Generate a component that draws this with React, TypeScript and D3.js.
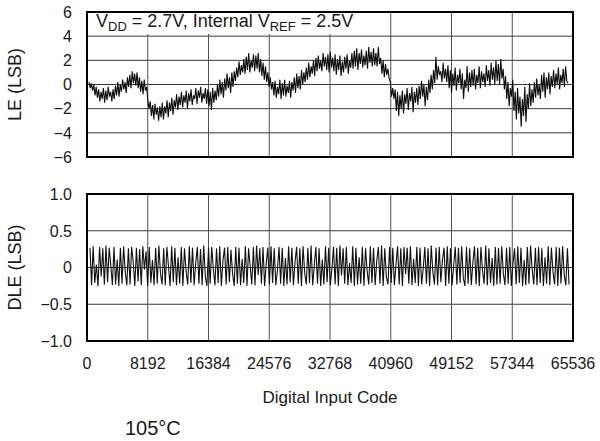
import React from "react";
import * as d3 from "d3";

const X_TICKS = [0, 8192, 16384, 24576, 32768, 40960, 49152, 57344, 65536];
const LE_TICKS = [6, 4, 2, 0, -2, -4, -6];
const LE_TICK_LABELS = ["6", "4", "2", "0", "\u22122", "\u22124", "\u22126"];
const DLE_TICKS = [1, 0.5, 0, -0.5, -1];
const DLE_TICK_LABELS = ["1.0", "0.5", "0", "\u22120.5", "\u22121.0"];

const LE_CODE_RANGE = [270, 64860];
const LE_VALUES = [
  0.2, -0.3, 0.1, -0.5, 0.0, -0.9, -0.2, -1.1, -0.4, -1.4, -0.6, -1.2, -0.3, -1.5, -0.5, -1.3, -0.2, -1.0, -0.6, -1.4,
  -0.4, -1.2, -0.1, -0.9, 0.2, -1.0, 0.0, -0.6, 0.4, -0.4, 0.2, -0.7, 0.6, -0.2, 0.8, -0.3, 1.1, 0.1, 0.9, -0.1,
  1.0, -0.3, 0.6, -0.6, 0.3, -0.8, 0.4, -0.5, -0.2, -1.3, -2.0, -1.4, -2.6, -1.7, -2.9, -1.6, -2.5, -1.9, -3.0, -1.8,
  -2.7, -1.5, -2.9, -1.8, -2.4, -1.3, -2.7, -1.5, -2.2, -1.1, -2.5, -1.3, -1.9, -0.8, -2.1, -1.0, -1.7, -0.6, -1.9, -0.9,
  -1.5, -0.5, -2.0, -0.7, -1.4, -0.4, -1.7, -0.9, -1.2, -0.3, -1.6, -0.5, -1.1, -0.2, -1.5, -0.7, -1.2, -0.3, -1.6, -0.4,
  -1.8, -0.6, -2.1, -0.3, -1.5, -0.5, -1.3, 0.0, -1.0, 0.4, -0.8, 0.2, -1.1, 0.5, -0.5, 0.9, -0.3, 0.6, -0.7, 1.0,
  -0.2, 1.1, 0.3, 1.4, 0.6, 1.9, 0.8, 1.6, 1.0, 2.1, 0.9, 2.3, 1.2, 2.6, 1.0, 2.0, 1.4, 2.5, 1.1, 2.4,
  1.3, 2.6, 1.0, 2.1, 0.7, 1.8, 0.4, 1.5, 0.2, 1.0, -0.2, 0.6, -0.4, 0.2, -0.9, 0.3, -1.1, -0.2, -0.8, 0.4,
  -1.2, 0.1, -0.9, 0.4, -1.0, -0.1, -0.7, 0.3, -1.1, 0.2, -0.5, 0.6, -0.7, 0.9, -0.3, 0.7, -0.4, 1.2, 0.0, 1.0,
  0.2, 1.4, 0.4, 1.8, 0.6, 1.5, 0.9, 2.0, 0.7, 2.2, 1.1, 2.4, 1.3, 2.0, 1.1, 2.6, 1.5, 2.3, 1.2, 2.5,
  1.0, 2.7, 1.4, 2.2, 1.1, 2.5, 0.8, 2.1, 1.2, 2.4, 0.7, 1.9, 1.0, 2.3, 1.3, 2.5, 0.9, 2.0, 1.4, 2.6,
  1.3, 2.8, 1.5, 3.0, 1.2, 2.6, 1.7, 2.9, 1.4, 2.4, 1.6, 2.8, 1.3, 3.1, 1.8, 2.7, 1.5, 3.0, 1.6, 2.6,
  1.5, 3.1, 1.7, 2.2, 0.9, 2.0, 0.6, 1.7, 0.8, 1.3, 0.5, 0.2, -1.0, -0.3, -1.2, -0.4, -2.2, -0.6, -2.6, -0.9,
  -2.0, -0.5, -2.4, -0.8, -1.6, -0.3, -2.1, -0.7, -1.4, -0.2, -2.3, -0.6, -1.5, -0.3, -1.7, -0.1, -1.2, 0.3, -1.0, 0.0,
  -1.8, -0.2, -1.3, 0.4, -0.7, 0.8, -0.4, 1.2, 0.1, 2.3, 0.4, 1.5, 0.8, 1.1, 0.2, 1.8, 0.5, 1.3, 0.2, 1.6,
  -0.3, 1.2, -0.7, 0.9, -0.1, 1.4, -0.5, 0.8, 0.1, 1.3, -0.4, 0.9, -1.2, 0.4, -0.3, 1.5, -0.6, 1.0, -0.2, 1.2,
  -0.1, 1.3, -0.4, 0.8, 0.1, 1.5, -0.3, 1.1, 0.2, 0.9, -0.2, 1.6, 0.3, 1.2, -0.1, 1.8, 0.4, 1.4, 0.0, 2.0,
  0.3, 1.7, 0.0, 2.1, 0.5, 1.3, -0.4, 0.7, -1.2, 0.2, -1.8, -0.3, -1.0, 0.4, -2.2, -0.6, -2.9, -0.3, -2.4, -1.0,
  -3.5, -1.2, -2.6, -0.2, -3.1, -0.8, -2.0, 0.1, -1.8, -0.4, -1.5, 0.2, -1.1, 0.5, -0.9, 0.0, -1.2, 0.8, -0.6, 1.0,
  -1.1, 0.6, -0.4, 1.0, -0.8, 0.7, -0.2, 1.2, -0.3, 0.9, 0.0, 1.4, -0.4, 0.8, 0.1, 1.3, -0.2, 1.5, 0.3, 0.1,
];

const DLE_CODE_RANGE = [400, 65000];
const DLE_VALUES = [
  .27, -.24, .29, -.21, .04, -.25, .28, -.12, .26, -.23,
  .30, -.20, .27, .03, -.24, .28, -.23, .11, -.25, .27,
  -.22, .29, -.06, -.24, .26, -.23, .28, .07, -.25, .27,
  -.19, .25, -.24, .29, -.03, .22, -.25, .28, -.21, .10,
  -.24, .27, -.22, .30, -.08, -.23, .26, -.24, .28, .02,
  -.25, .29, -.20, .27, -.24, .14, -.22, .28, -.25, .26,
  -.05, -.23, .29, -.21, .27, -.24, .06, .28, -.22, .25,
  -.24, .30, -.13, -.25, .27, -.22, .28, -.02, -.24, .26,
  -.21, .29, -.25, .09, .27, -.23, .28, -.20, .24, -.08,
  -.25, .28, -.22, .27, -.24, .12, -.21, .29, -.25, .26,
  .01, -.23, .28, -.24, .30, -.10, .26, -.22, .28, -.25,
  .05, .27, -.23, .29, -.21, .26, -.24, -.04, .28, -.22,
  .27, -.25, .13, -.23, .29, -.20, .27, -.24, .08, .28,
  -.22, .26, -.25, .29, -.07, -.23, .27, -.21, .30, -.24,
  .03, .28, -.22, .26, -.25, .11, -.23, .29, -.20, .27,
  -.24, -.02, .28, -.23, .27, -.25, .30, -.11, .26, -.22,
  .28, -.24, .06, -.21, .29, -.25, .27, -.23, .14, -.22,
  .28, -.25, .26, -.05, -.23, .29, -.21, .27, -.24, .09,
  .28, -.22, .30, -.25, .26, -.13, -.23, .28, -.21, .27,
  -.24, .04, .29, -.23, .26, -.25, .28, -.09, .27, -.22,
  .29, -.24, .12, -.21, .28, -.25, .27, -.23, -.01, .28,
  -.22, .26, -.25, .30, -.06, -.23, .27, -.24, .28, -.20,
  .10, .27, -.25, .29, -.22, .26, -.24, .03, .28, -.23,
  .27, -.21, .29, -.14, -.25, .28, -.22, .26, -.24, .07,
  .29, -.23, .27, -.25, .28, -.04, -.22, .30, -.24, .26,
  -.21, .13, -.25, .28, -.23, .27, -.22, .29, -.08, -.24,
  .27, -.22, .28, -.25, .05, .26, -.23, .29, -.21, .27,
  -.25, .10, -.24, .28, -.22, .30, -.03, -.23, .27, -.24,
  .28, -.21, .26, -.25, .14, -.22, .29, -.24, .27, -.06,
  -.23, .28, -.25, .27, -.22, .29, -.10, -.24, .26, -.23,
];

const W = 600;
const H = 441;
const LEFT = 87;
const RIGHT = 573;
const TOP1 = 12;
const BOT1 = 157;
const TOP2 = 194;
const BOT2 = 341;
const FONT = "'Liberation Sans', Arial, Helvetica, sans-serif";
const VGRID = "#5a4b50";
const HGRID = "#3a3a3a";
const TEXT = "#1a1a1a";

export default function App() {
  const x = d3.scaleLinear().domain([0, 65536]).range([LEFT, RIGHT]);
  const yLE = d3.scaleLinear().domain([-6, 6]).range([BOT1, TOP1]);
  const yDLE = d3.scaleLinear().domain([-1, 1]).range([BOT2, TOP2]);

  const leIdx = d3.scaleLinear().domain([0, LE_VALUES.length - 1]).range(LE_CODE_RANGE);
  const dleIdx = d3.scaleLinear().domain([0, DLE_VALUES.length - 1]).range(DLE_CODE_RANGE);

  const leLine = d3
    .line<number>()
    .x((_, i) => x(leIdx(i)))
    .y((d) => yLE(d));
  const dleLine = d3
    .line<number>()
    .x((_, i) => x(dleIdx(i)))
    .y((d) => yDLE(d));

  const innerX = X_TICKS.slice(1, -1);

  const panel = (
    top: number,
    bot: number,
    ticks: number[],
    labels: string[],
    y: d3.ScaleLinear<number, number>
  ) => (
    <g>
      {ticks
        .filter((t, i) => i > 0 && i < ticks.length - 1)
        .map((t) => (
          <line key={"h" + t} x1={LEFT} x2={RIGHT} y1={y(t)} y2={y(t)} stroke={HGRID} strokeWidth={1} />
        ))}
      {innerX.map((t) => (
        <line key={"v" + t} x1={x(t)} x2={x(t)} y1={top} y2={bot} stroke={VGRID} strokeWidth={1} />
      ))}
      {ticks.map((t, i) => (
        <text
          key={"l" + t}
          x={72}
          y={y(t)}
          dy="0.36em"
          textAnchor="end"
          fontSize={16}
          fontFamily={FONT}
          fill={TEXT}
        >
          {labels[i]}
        </text>
      ))}
    </g>
  );

  return (
    <svg
      width={W}
      height={H}
      viewBox={`0 0 ${W} ${H}`}
      style={{ position: "absolute", left: 0, top: 0, display: "block", background: "#fff" }}
    >
      <rect x={0} y={0} width={W} height={H} fill="#fff" />
      {panel(TOP1, BOT1, LE_TICKS, LE_TICK_LABELS, yLE)}
      {panel(TOP2, BOT2, DLE_TICKS, DLE_TICK_LABELS, yDLE)}

      {/* title box */}
      <rect x={LEFT + 1} y={TOP1 + 1} width={269} height={21} fill="#fff" />
      <text x={96} y={27} fontSize={18} fontFamily={FONT} fill={TEXT}>
        <tspan>V</tspan>
        <tspan fontSize={13} dy={4}>DD</tspan>
        <tspan dy={-4}> = 2.7V, Internal V</tspan>
        <tspan fontSize={13} dy={4}>REF</tspan>
        <tspan dy={-4}> = 2.5V</tspan>
      </text>

      <path d={leLine(LE_VALUES) || ""} fill="none" stroke="#0d0d0d" strokeWidth={1.1} />
      <path d={dleLine(DLE_VALUES) || ""} fill="none" stroke="#111" strokeWidth={1.1} />

      <rect x={LEFT} y={TOP1} width={RIGHT - LEFT} height={BOT1 - TOP1} fill="none" stroke="#000" strokeWidth={2} />
      <rect x={LEFT} y={TOP2} width={RIGHT - LEFT} height={BOT2 - TOP2} fill="none" stroke="#000" strokeWidth={2} />

      {X_TICKS.map((t) => (
        <text
          key={"x" + t}
          x={x(t)}
          y={369}
          textAnchor="middle"
          fontSize={16}
          fontFamily={FONT}
          fill={TEXT}
        >
          {t}
        </text>
      ))}

      <text x={330} y={403} textAnchor="middle" fontSize={17} fontFamily={FONT} fill={TEXT}>
        Digital Input Code
      </text>
      <text x={125} y={435} fontSize={20} fontFamily={FONT} fill={TEXT}>
        105°C
      </text>

      <text
        transform={`translate(21,${(TOP1 + BOT1) / 2}) rotate(-90)`}
        textAnchor="middle"
        fontSize={18}
        fontFamily={FONT}
        fill={TEXT}
      >
        LE (LSB)
      </text>
      <text
        transform={`translate(21,${(TOP2 + BOT2) / 2}) rotate(-90)`}
        textAnchor="middle"
        fontSize={18}
        fontFamily={FONT}
        fill={TEXT}
      >
        DLE (LSB)
      </text>
    </svg>
  );
}
